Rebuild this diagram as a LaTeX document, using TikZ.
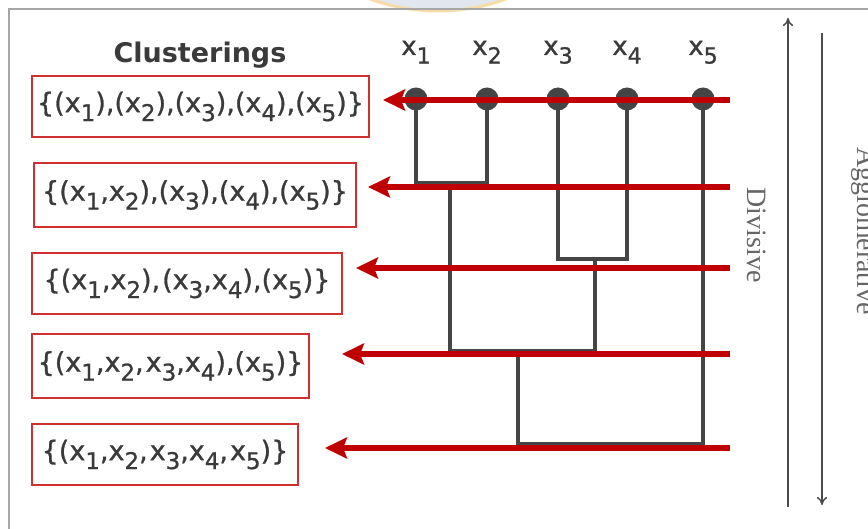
\documentclass[tikz,border=0pt]{standalone}
\usepackage{fontspec}
\setmainfont{DejaVu Sans}
\newfontfamily\medfont{DejaVu Sans}[BoldFont={DejaVu Sans}, BoldFeatures={FakeBold=1.0}]
\newfontfamily\grayserif{Liberation Serif}
\usetikzlibrary{arrows.meta}
\definecolor{redarr}{HTML}{C00000}
\definecolor{boxred}{HTML}{D03030}
\definecolor{dendro}{HTML}{454545}
\definecolor{txt}{HTML}{3A3A3A}
\definecolor{logofill}{HTML}{E2E7EF}
\definecolor{logoedge}{HTML}{F6DDA8}
\newcommand\xs[1]{x\raisebox{-0.6ex}{\scalebox{0.85}{#1}}}
\newcommand\gp{\hspace{2pt}}
\tikzset{
  cbox/.style={draw=boxred, line width=1.5pt, inner sep=0pt, text=txt,
    font=\medfont\bfseries\fontsize{27}{30}\selectfont},
  redarrow/.style={draw=redarr, line width=6pt,
    -{Stealth[length=22pt,width=21pt,inset=4pt]}},
  dline/.style={draw=dendro, line width=4pt},
  leafdot/.style={circle, fill=dendro, inner sep=0pt, minimum size=23pt},
  leaflab/.style={text=txt, font=\medfont\bfseries\fontsize{26}{28}\selectfont, anchor=base},
  sidearrow/.style={draw=black!70, line width=1.5pt, -{To[length=8pt,width=10pt]}},
  sidelab/.style={text=black!60, font=\grayserif\fontsize{28}{32}\selectfont, rotate=-90, anchor=base}
}
\begin{document}
\begin{tikzpicture}[x=1pt, y=-1pt]
\useasboundingbox (0,0) rectangle (868,529);
% faint logo
\begin{scope}
\clip (0,0) rectangle (868,529);
\draw[draw=logoedge, fill=logofill, line width=3pt] (438,-186) circle [radius=197];
\end{scope}
% frame
\draw[draw=black!35, line width=2pt] (9,529) -- (9,9) -- (868,9);

% title
\node[text=txt, font=\bfseries\fontsize{27}{30}\selectfont] (title) at (200,55) {Clusterings};

% leaves
\foreach \i/\x in {1/416,2/487,3/558,4/627,5/703}{
  \node[leafdot] (d\i) at (\x,99) {};
  \node[leaflab] (l\i) at (\x,55) {\xs{\i}};
}
% dendrogram
\coordinate (m12) at (416,183);
\coordinate (n12) at (487,183);
\coordinate (m34) at (558,259);
\coordinate (n34) at (627,259);
\coordinate (a) at (450,183);
\coordinate (a2) at (450,351);
\coordinate (b) at (595,259);
\coordinate (b2) at (595,351);
\coordinate (c) at (518,351);
\coordinate (c2) at (518,444);
\coordinate (e) at (703,444);
\draw[dline] (d1.center) -- (m12) -- (n12) -- (d2.center);
\draw[dline] (d3.center) -- (m34) -- (n34) -- (d4.center);
\draw[dline] (a) -- (a2) -- (b2) -- (b);
\draw[dline] (c) -- (c2) -- (e) -- (d5.center);

% boxes
\node[cbox, minimum width=337pt, minimum height=61pt] (b1) at (200.5,106.5)
  {\{(\xs1),(\xs2),(\xs3),(\xs4),(\xs5)\}};
\node[cbox, minimum width=322pt, minimum height=64pt] (b2) at (195,195)
  {\{(\xs1,\xs2),(\xs3),(\xs4),(\xs5)\}};
\node[cbox, minimum width=310pt, minimum height=61pt] (b3) at (187,283.5)
  {\{(\xs1,\xs2),\gp(\xs3,\xs4),(\xs5)\}};
\node[cbox, minimum width=277pt, minimum height=64pt] (b4) at (170.5,366)
  {\{(\xs1,\xs2,\gp\xs3,\xs4),(\xs5)\}};
\node[cbox, minimum width=266pt, minimum height=61pt] (b5) at (165,454.5)
  {\{(\xs1,\xs2,\gp\xs3,\xs4,\gp\xs5)\}};

% red arrows
\foreach \i/\y/\t in {1/100/383,2/187/368,3/268/356,4/354/342,5/448/325}{
  \coordinate (rs\i) at (730,\y);
  \coordinate (rt\i) at (\t,\y);
  \draw[redarrow] (rs\i) -- (rt\i);
}

% side arrows
\coordinate (up0) at (788,507);
\coordinate (up1) at (788,18);
\coordinate (dn0) at (822,33);
\coordinate (dn1) at (822,505);
\draw[sidearrow] (up0) -- (up1);
\draw[sidearrow] (dn0) -- (dn1);
\node[sidelab] (div) at (747,235) {Divisive};
\node[sidelab] (agg) at (857,231) {Agglomerative};
\end{tikzpicture}
\end{document}
